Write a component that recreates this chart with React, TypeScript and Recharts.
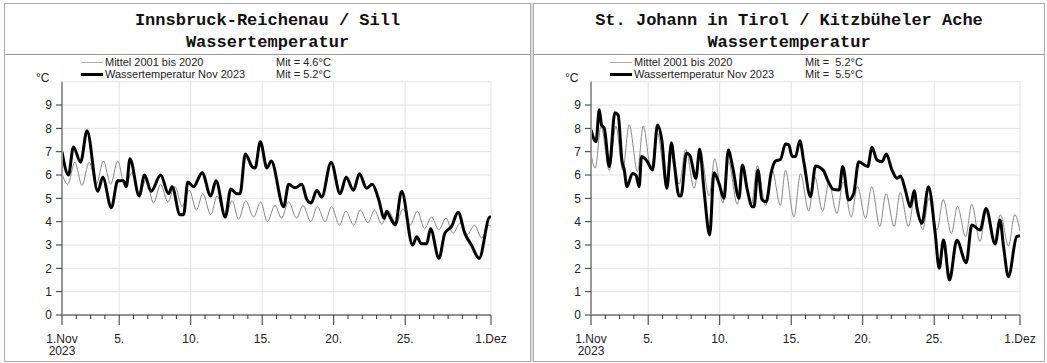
import { LineChart, Line, XAxis, YAxis, CartesianGrid, ReferenceLine } from 'recharts'

// day of month (1 = 1.Nov, 31 = 1.Dez), temperature in °C
const ibkMittel: [number, number][] = [
  [1.0, 6.05], [1.4, 5.6], [1.9, 6.55], [2.4, 5.55], [2.9, 6.55], [3.4, 5.6], [3.9, 6.6], [4.4, 5.6],
  [4.9, 6.6], [5.4, 5.5], [5.9, 6.1], [6.4, 5.2], [6.9, 5.8], [7.4, 4.8], [7.9, 5.6], [8.4, 4.85],
  [8.9, 5.5], [9.4, 4.65], [9.9, 5.35], [10.4, 4.5], [10.85, 5.2], [11.4, 4.3], [11.85, 5.1], [12.4, 4.2],
  [12.9, 4.9], [13.35, 4.1], [13.85, 4.9], [14.4, 4.2], [14.9, 4.85], [15.35, 4.0], [15.9, 4.7], [16.35, 4.15],
  [16.85, 4.85], [17.4, 4.15], [17.85, 4.7], [18.4, 4.0], [18.85, 4.65], [19.4, 4.0], [19.85, 4.65], [20.4, 3.85],
  [20.85, 4.45], [21.4, 3.85], [21.85, 4.5], [22.4, 3.95], [22.85, 4.5], [23.35, 3.9], [23.85, 4.45], [24.35, 3.9],
  [24.85, 4.55], [25.35, 3.85], [25.85, 4.45], [26.35, 3.7], [26.85, 4.2], [27.35, 3.65], [27.85, 4.15], [28.35, 3.5],
  [28.85, 3.95], [29.35, 3.45], [29.85, 3.85], [30.35, 3.3], [30.85, 3.85], [31, 3.8],
]

const ibkNov2023: [number, number][] = [
  [1.0, 7.0], [1.45, 6.0], [1.8, 7.2], [2.3, 6.55], [2.75, 7.9], [3.5, 5.3], [3.85, 5.9], [4.45, 4.6],
  [4.9, 5.75], [5.3, 5.75], [5.5, 5.5], [5.75, 6.7], [6.4, 5.1], [6.77, 6.0], [7.23, 5.3], [7.9, 6.0],
  [8.45, 5.2], [8.7, 5.5], [9.25, 4.3], [9.5, 4.3], [9.8, 5.7], [10.2, 5.5], [10.8, 6.1], [11.4, 5.1],
  [11.77, 5.75], [12.42, 4.2], [12.8, 5.4], [13.2, 5.2], [13.45, 5.2], [13.82, 6.9], [14.3, 6.35], [14.5, 6.3],
  [14.87, 7.43], [15.33, 6.3], [15.63, 6.6], [16.5, 4.64], [16.85, 5.6], [17.3, 5.45], [17.77, 5.6], [18.12, 4.95],
  [18.42, 4.8], [18.82, 5.35], [19.16, 5.05], [19.82, 6.55], [20.45, 5.2], [20.87, 5.9], [21.38, 5.35], [21.8, 6.05],
  [22.3, 5.43], [22.7, 5.6], [23.12, 5.0], [23.54, 4.15], [23.7, 4.45], [23.94, 4.2], [24.3, 3.86], [24.75, 5.3],
  [25.52, 3.0], [25.8, 3.35], [26.14, 3.05], [26.5, 3.05], [26.77, 3.7], [27.36, 2.43], [27.77, 3.5], [28.24, 3.8],
  [28.7, 4.4], [29.17, 3.5], [29.63, 3.0], [30.17, 2.43], [30.92, 4.2], [31, 4.2],
]

const stjMittel: [number, number][] = [
  [1.0, 6.9], [1.3, 6.3], [1.7, 8.1], [2.28, 6.2], [2.74, 8.1], [3.22, 6.2], [3.67, 8.15], [4.25, 6.15],
  [4.65, 8.1], [5.2, 6.25], [5.65, 7.8], [6.23, 5.7], [6.6, 7.45], [7.16, 5.6], [7.63, 7.1], [8.21, 5.43],
  [8.67, 6.9], [9.26, 5.1], [9.65, 6.7], [10.23, 4.8], [10.6, 6.6], [11.23, 4.75], [11.63, 6.4], [12.21, 4.7],
  [12.63, 6.4], [13.21, 4.7], [13.67, 6.2], [14.24, 4.7], [14.6, 6.2], [15.19, 4.2], [15.65, 6.05], [16.23, 4.45],
  [16.63, 5.95], [17.2, 4.45], [17.63, 5.65], [18.2, 4.35], [18.63, 5.7], [19.2, 4.2], [19.63, 5.5], [20.2, 4.15],
  [20.63, 5.5], [21.2, 3.8], [21.63, 5.2], [22.2, 3.8], [22.63, 5.25], [23.2, 3.8], [23.63, 5.05], [24.2, 3.65],
  [24.63, 5.0], [25.2, 3.65], [25.63, 4.95], [26.2, 3.5], [26.63, 4.65], [27.2, 3.35], [27.63, 4.75], [28.2, 3.15],
  [28.63, 4.4], [29.2, 3.1], [29.63, 4.3], [30.2, 2.95], [30.63, 4.3], [31, 3.6],
]

const stjNov2023: [number, number][] = [
  [1.0, 7.93], [1.35, 7.43], [1.58, 8.8], [1.74, 8.14], [1.93, 8.0], [2.28, 6.36], [2.67, 8.67], [2.9, 8.57],
  [3.16, 6.64], [3.33, 6.21], [3.51, 5.5], [3.9, 6.07], [4.14, 6.0], [4.37, 5.5], [4.53, 6.79], [4.95, 6.57],
  [5.3, 6.21], [5.65, 8.14], [5.95, 7.5], [6.3, 5.43], [6.63, 7.36], [6.82, 6.5], [7.16, 5.1], [7.3, 5.1],
  [7.67, 6.93], [7.9, 6.86], [8.33, 5.86], [8.6, 7.1], [8.9, 5.36], [9.3, 3.43], [9.6, 6.1], [9.95, 5.64],
  [10.3, 5.0], [10.6, 7.07], [10.9, 6.36], [11.35, 5.0], [11.58, 6.43], [11.93, 5.36], [12.28, 4.64], [12.4, 4.64],
  [12.67, 6.21], [12.95, 4.95], [13.25, 4.85], [13.6, 6.1], [13.9, 6.6], [14.25, 6.67], [14.6, 7.33], [14.83, 7.29],
  [15.07, 6.79], [15.3, 6.79], [15.6, 7.47], [15.9, 6.5], [16.35, 5.07], [16.7, 6.39], [17.23, 6.21], [17.63, 5.67],
  [17.93, 5.39], [18.35, 5.36], [18.6, 6.36], [19.02, 4.93], [19.37, 5.21], [19.72, 6.57], [20.35, 6.36], [20.65, 7.19],
  [21.0, 6.64], [21.35, 6.57], [21.65, 6.9], [22.05, 6.21], [22.4, 5.86], [22.65, 5.96], [22.98, 5.36], [23.33, 4.64],
  [23.6, 5.33], [23.8, 4.57], [24.14, 3.93], [24.6, 5.5], [25.07, 3.5], [25.35, 2.0], [25.65, 3.21], [26.07, 1.5],
  [26.58, 3.2], [27.24, 2.24], [27.63, 3.86], [28.21, 3.64], [28.63, 4.57], [29.26, 3.04], [29.6, 4.07], [29.85, 2.93],
  [30.19, 1.64], [30.77, 3.36], [31, 3.4],
]

const allDays = Array.from({ length: 31 }, (_, i) => i + 1)
const majorDays = [1, 5, 10, 15, 20, 25, 31]
const majorLabels = ['1.Nov', '5.', '10.', '15.', '20.', '25.', '1.Dez']
const yTicks = [0, 1, 2, 3, 4, 5, 6, 7, 8, 9]

const sans = '"Liberation Sans", Arial, Helvetica, sans-serif'
const mono = '"Liberation Mono", "Courier New", monospace'

const toRows = (pts: [number, number][]) => pts.map(([d, v]) => ({ d, v }))

function DayTick({ x, y, payload }: any) {
  const i = majorDays.indexOf(payload.value)
  const major = i >= 0
  return (
    <g>
      <line x1={x} x2={x} y1={y} y2={y + (major ? 10 : 4)} stroke="#333" strokeWidth={1} />
      {major && (
        <text x={x} y={y + 28} textAnchor="middle" fontSize={12} fill="#222" fontFamily={sans}>
          {majorLabels[i]}
        </text>
      )}
      {payload.value === 1 && (
        <text x={x} y={y + 40} textAnchor="middle" fontSize={12} fill="#222" fontFamily={sans}>
          2023
        </text>
      )}
    </g>
  )
}

interface PanelProps {
  left: number
  width: number
  title: string
  mittel: [number, number][]
  current: [number, number][]
  mittelMean: string
  currentMean: string
}

function Panel({ left, width, title, mittel, current, mittelMean, currentMean }: PanelProps) {
  const plotLeft = 58 // from the panel's left edge
  const plotRight = width - plotLeft - 430
  return (
    <div
      style={{
        position: 'absolute', left, top: 3, width, height: 359,
        boxSizing: 'border-box', border: '1px solid #aaa', background: '#fff',
      }}
    >
      <div
        style={{
          position: 'absolute', left: 0, top: 6, width: '100%', textAlign: 'center',
          fontFamily: mono, fontWeight: 'bold', fontSize: 17, lineHeight: '22px', color: '#111',
        }}
      >
        <div>{title}</div>
        <div>Wassertemperatur</div>
      </div>
      <div style={{ position: 'absolute', left: 0, top: 50, width: '100%', borderTop: '1px solid #999' }} />

      {/* legend */}
      <div style={{ position: 'absolute', left: plotLeft + 18, top: 58, width: 22, borderTop: '1px solid #aaa' }} />
      <div style={{ position: 'absolute', left: plotLeft + 18, top: 69, width: 22, borderTop: '3px solid #000' }} />
      <div
        style={{
          position: 'absolute', left: plotLeft + 42, top: 52, fontFamily: sans, fontSize: 11,
          lineHeight: '12px', color: '#222', whiteSpace: 'pre',
        }}
      >
        <div>Mittel 2001 bis 2020</div>
        <div>Wassertemperatur Nov 2023</div>
      </div>
      <div
        style={{
          position: 'absolute', left: plotLeft + 213, top: 52, fontFamily: sans, fontSize: 11,
          lineHeight: '12px', color: '#222', whiteSpace: 'pre',
        }}
      >
        <div>{mittelMean}</div>
        <div>{currentMean}</div>
      </div>
      <div
        style={{
          position: 'absolute', left: plotLeft - 27, top: 67, fontFamily: sans, fontSize: 12,
          color: '#222',
        }}
      >
        °C
      </div>

      <div style={{ position: 'absolute', left: 0, top: 52 }}>
        <LineChart
          width={width - 2}
          height={304}
          margin={{ top: 25.7, right: plotRight, left: plotLeft - 41, bottom: 5 }}
        >
          <CartesianGrid vertical={false} stroke="#e2e2e2" />
          {majorDays.slice(1).map(d => (
            <ReferenceLine key={d} x={d} stroke="#e2e2e2" />
          ))}
          <XAxis
            type="number"
            dataKey="d"
            domain={[1, 31]}
            ticks={allDays}
            interval={0}
            tick={<DayTick />}
            tickLine={false}
            tickSize={0}
            tickMargin={0}
            height={40}
            axisLine={{ stroke: '#333', strokeWidth: 1 }}
            allowDataOverflow
          />
          <YAxis
            type="number"
            domain={[0, 10]}
            ticks={yTicks}
            interval={0}
            width={40}
            tickSize={6}
            tickMargin={4}
            tick={{ fontSize: 12, fill: '#222', fontFamily: sans }}
            tickLine={{ stroke: '#333' }}
            axisLine={{ stroke: '#999', strokeWidth: 2 }}
            allowDataOverflow
          />
          <Line
            data={toRows(mittel)}
            dataKey="v"
            type="monotone"
            stroke="#888"
            strokeWidth={1}
            dot={false}
            isAnimationActive={false}
          />
          <Line
            data={toRows(current)}
            dataKey="v"
            type="monotone"
            stroke="#000"
            strokeWidth={3}
            dot={false}
            isAnimationActive={false}
          />
        </LineChart>
      </div>
    </div>
  )
}

export default function App() {
  return (
    <div style={{ position: 'absolute', left: 0, top: 0, width: 1047, height: 363, background: '#fff' }}>
      <Panel
        left={4}
        width={527}
        title="Innsbruck-Reichenau / Sill"
        mittel={ibkMittel}
        current={ibkNov2023}
        mittelMean="Mit = 4.6°C"
        currentMean="Mit = 5.2°C"
      />
      <div style={{ position: 'absolute', left: 531, top: 3, width: 2, height: 359, background: '#ddd' }} />
      <Panel
        left={533}
        width={512}
        title="St. Johann in Tirol / Kitzbüheler Ache"
        mittel={stjMittel}
        current={stjNov2023}
        mittelMean="Mit =  5.2°C"
        currentMean="Mit =  5.5°C"
      />
    </div>
  )
}
